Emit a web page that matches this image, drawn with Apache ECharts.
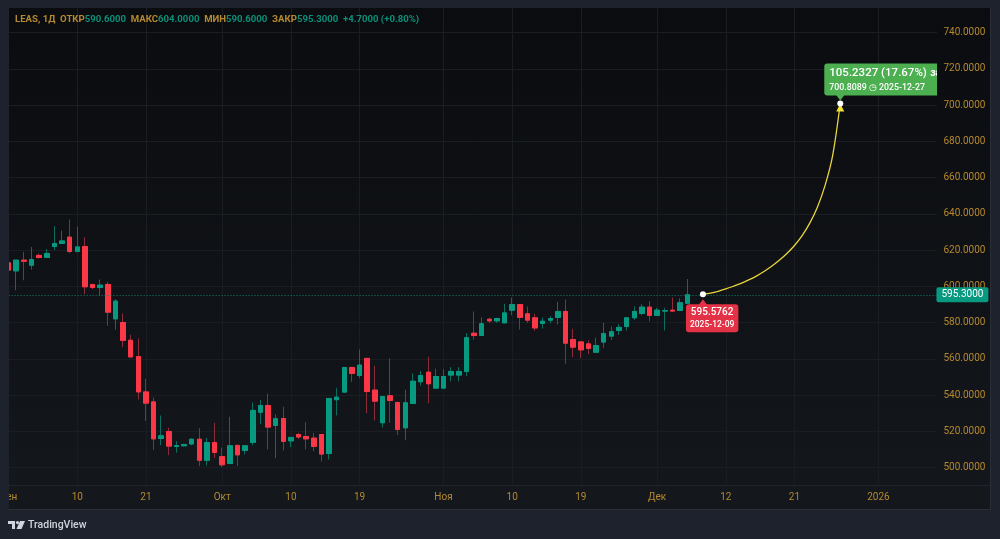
<!DOCTYPE html>
<html>
<head>
<meta charset="utf-8">
<script src="https://cdn.jsdelivr.net/npm/echarts@6/dist/echarts.min.js"></script>
<style>
html, body { margin: 0; padding: 0; background: #1e222d; }
#box { width: 1000px; height: 539px; }
</style>
</head>
<body>
<div id="box"></div>
<script>
// daily candles
const opens = [612.9,608.5,614.4,611.6,617,615.9,621.9,623.6,627.1,619.3,621.9,601,599.3,601,582,580,570.2,561.2,541.7,536.2,516,519.9,511.6,512,513,515.6,504,513.8,506,502.2,512.2,509.4,513.8,530.5,534.2,523.2,527,514.7,518.2,517.1,516.2,518.2,507.7,537.4,541.6,555.2,550.8,560.2,542.7,524.7,539.6,535.9,521.9,535.3,547.3,552.6,543.8,543.8,551,551,553,574.1,572.8,581.8,580.9,579.8,586.8,589.9,584.8,582.6,579.5,581.3,582.8,586.1,570.6,569.3,568.2,563.6,569.2,572.5,575.6,577.8,582.6,585,588.5,583.9,586.3,586.8,586.6,590.6];
const closes = [608.9,614.4,613.8,614.7,615.9,618.1,623.6,625,619.2,621.7,599.7,599.3,600.6,585.7,591.8,570.1,561,541.7,535.5,515.8,517.5,511.8,512.1,512.7,515.6,504,513.8,508.3,501.5,512,507,512,531.5,534.2,522.3,526.9,514.4,516.6,516.8,515.8,511.6,507.4,538.1,538.8,555.2,551.9,556.5,541.9,536.6,539.2,537,521,535.7,547.6,550.8,546.2,550.2,550.2,553,553,571.6,572.8,579.3,580.9,582.2,585.3,589.9,582.8,581.3,577,580.7,582.2,586.1,568.6,566.4,564.9,565.7,567.3,573.9,574.9,577.3,582.6,586.1,588.5,583.9,586.8,586.6,586.3,590.9,595.3];
const lows = [602.2,597.8,603.3,609.2,615.3,615.9,620.1,623.4,618.2,618.8,595.6,598.4,595,578.2,576,566.4,560.7,537.5,525.7,509.6,512.3,506.8,508.1,511.6,512.3,500.7,501.1,505.3,500.2,501.8,500.8,507.2,512.2,523.9,510,505.2,509.4,511.2,515.8,510,509,503.3,504.4,528.7,541.4,547.3,549.3,530,525.9,522.1,524.7,517.9,515.1,535.3,545.2,535.5,543.8,543.8,547.5,547.5,550.4,570.4,572.8,579.8,579.8,579.8,584,576.1,579.8,575.4,576.7,579.5,578.9,557.2,560.9,560.3,562.5,563.6,566,570.3,573.2,575.6,581.5,584,580.6,583.9,575.6,586.3,586.6,590.6];
const highs = [615.7,614.4,619,621.7,618.1,620.6,633.1,630.7,636.8,632.9,627.1,601.3,603.7,602.4,593,585,573.2,571.2,548.9,538.6,528.7,521.9,514.5,513.1,516,521.7,516.4,524.6,511,528,512.2,512,535.9,537.3,540.7,529.3,533.5,516.6,519.1,525,519.1,518.2,538.1,543.8,555.2,555.2,565.1,560.2,556.1,539.2,560.2,535.9,542.9,551.9,553.2,561.1,554.5,554.3,555.4,555.4,574.1,586.1,582.8,582.6,582.6,590.3,593.8,589.9,588.8,584.8,582.8,583.5,591.4,592.7,576.5,569.7,570.1,571.7,579.8,577.8,579.1,582.6,588.8,590.1,591.8,588.1,588.1,593.8,593.3,604];

// projection curve
const curveIndex = [91,92,93,94,95,96,97,98,99,100,101,102,103,104,105,106,107,108,109];
const curveValues = [595.58,596.2,597.2,598.5,600,601.6,603.5,605.6,608.1,611,614.3,618.1,622.5,627.9,634.8,643.6,655.5,672.1,700.81];

// time axis
const tickIndex = [0,9,18,28,37,46,57,66,75,85,94,103,114];
const tickLabels = ['Сен','10','21','Окт','10','19','Ноя','10','19','Дек','12','21','2026'];
const slotCount = 123;

const lastPrice = 595.3;
const startPoint = [91, 595.5762];
const endPoint = [109, 700.8089];

const ORANGE = '#b5892f';
const paneFill = new echarts.graphic.LinearGradient(0, 0, 0, 1, [
    { offset: 0, color: '#0a0c0f' },
    { offset: 1, color: '#14171c' }
]);

const categories = [];
for (let i = 0; i < slotCount; i++) {
    const k = tickIndex.indexOf(i);
    categories.push(k >= 0 ? tickLabels[k] : '');
}
const isTick = (i) => tickIndex.indexOf(i) >= 0;

const wickData = opens.map((o, i) => [o, closes[i], lows[i], highs[i]]);
const bodyData = opens.map((o, i) => {
    const c = closes[i];
    return [o, c, Math.min(o, c), Math.max(o, c)];
});

const chart = echarts.init(document.getElementById('box'), null, { renderer: 'canvas' });

const option = {
    animation: false,
    backgroundColor: '#1e222d',
    grid: { left: 8.6, top: -3.75, width: 930.86, height: 507.5, outerBoundsMode: 'none' },
    title: {
        left: 15, top: 15, z: 25, padding: 0,
        text: '{o|LEAS, 1Д  ОТКР}{g|590.6000}{o|  МАКС}{g|604.0000}{o|  МИН}{g|590.6000}{o|  ЗАКР}{g|595.3000}{g|  +4.7000 (+0.80%)}',
        textStyle: {
            rich: {
                o: { color: ORANGE, fontFamily: 'Roboto', fontSize: 9.6 },
                g: { color: '#0b8f79', fontFamily: 'Roboto', fontSize: 9.6 }
            }
        }
    },
    xAxis: [
        {
            // grid lines only
            type: 'category', data: categories, boundaryGap: false, z: 0, position: 'bottom',
            axisLine: { show: false }, axisTick: { show: false }, axisLabel: { show: false },
            splitLine: { show: true, interval: (i) => isTick(i), lineStyle: { color: '#1a1d22', width: 1 } }
        },
        {
            type: 'category', data: categories, boundaryGap: false, z: 20, position: 'bottom', offset: -16,
            axisLine: { show: false }, axisTick: { show: false }, splitLine: { show: false },
            axisLabel: {
                interval: (i) => isTick(i), margin: 5, hideOverlap: false,
                showMinLabel: true, color: ORANGE, fontFamily: 'Roboto', fontSize: 10
            }
        }
    ],
    yAxis: [
        {
            type: 'value', position: 'right', min: 480, max: 760, interval: 20, z: 0,
            axisLine: { show: false }, axisTick: { show: false }, axisLabel: { show: false },
            splitLine: { show: true, lineStyle: { color: '#1a1d22', width: 1 } }
        },
        {
            type: 'value', position: 'right', min: 480, max: 760, interval: 20, z: 20,
            axisLine: { show: false }, axisTick: { show: false }, splitLine: { show: false },
            axisLabel: {
                margin: 4, color: ORANGE, fontFamily: 'Roboto', fontSize: 10,
                formatter: (v) => (v >= 500 && v <= 740 ? v.toFixed(4) : '')
            }
        }
    ],
    series: [
        {
            // wicks, dim like the thin lines of the original
            name: 'wick', type: 'candlestick', z: 2, barWidth: 5, data: wickData,
            itemStyle: { color: '#0a6e5e', color0: '#8c2c38', borderColor: '#0a6e5e', borderColor0: '#8c2c38', borderWidth: 1 },
            markLine: {
                silent: true, symbol: 'none', animation: false, label: { show: false },
                lineStyle: { color: '#0c8570', type: [1, 2], width: 1 },
                data: [{ yAxis: lastPrice }]
            }
        },
        {
            name: 'body', type: 'candlestick', z: 3, barWidth: 5, data: bodyData,
            itemStyle: { color: '#089981', color0: '#fb3748', borderColor: '#089981', borderColor0: '#fb3748', borderWidth: 1 }
        },
        {
            name: 'curve', type: 'line', z: 4, smooth: 0.3, showSymbol: false, silent: true,
            data: curveIndex.map((x, i) => [x, curveValues[i]]),
            lineStyle: { color: '#e8d53c', width: 1.3 }
        },
        {
            name: 'notes', type: 'scatter', z: 5, silent: true, clip: false,
            itemStyle: { opacity: 1 },
            data: [
                {
                    value: startPoint, symbol: 'triangle', symbolSize: [9, 6], symbolOffset: [0, 8],
                    itemStyle: { color: '#e33146', opacity: 1 }
                },
                {
                    value: endPoint, symbol: 'triangle', symbolSize: [9, 6], symbolRotate: 180, symbolOffset: [0, -6],
                    itemStyle: { color: '#4caf50', opacity: 1 }
                },
                {
                    value: endPoint, symbol: 'triangle', symbolSize: [8, 8], symbolOffset: [0, 4],
                    itemStyle: { color: '#f2e32f', opacity: 1 }
                },
                {
                    value: startPoint, symbol: 'circle', symbolSize: 6, itemStyle: { color: '#ffffff', opacity: 1 },
                    label: {
                        show: true, position: [-14, 13], backgroundColor: '#e33146', borderRadius: 3,
                        padding: [1, 4, 1, 4], align: 'left', verticalAlign: 'top',
                        formatter: '{a|595.5762}\n{b|2025-12-09}',
                        rich: {
                            a: { color: '#fff', fontFamily: 'Roboto', fontSize: 10, fontWeight: 500, align: 'center', lineHeight: 14 },
                            b: { color: '#fff', fontFamily: 'Roboto', fontSize: 8.5, fontWeight: 500, align: 'center', lineHeight: 12 }
                        }
                    }
                },
                {
                    value: endPoint, symbol: 'circle', symbolSize: 6, itemStyle: { color: '#ffffff', opacity: 1 },
                    label: {
                        show: true, position: [-13, -37], backgroundColor: '#4caf50', borderRadius: 3,
                        padding: [2, 6, 1, 5], align: 'left', verticalAlign: 'top',
                        formatter: '{a|105.2327 (17.67%)} {c|за 18 дней}\n{b|700.8089 ◷ 2025-12-27}',
                        rich: {
                            a: { color: '#fff', fontFamily: 'Roboto', fontSize: 11.5, fontWeight: 500, lineHeight: 16 },
                            c: { color: '#fff', fontFamily: 'Roboto', fontSize: 10.5, fontWeight: 700, lineHeight: 16 },
                            b: { color: '#fff', fontFamily: 'Roboto', fontSize: 8.8, fontWeight: 500, lineHeight: 13 }
                        }
                    }
                }
            ]
        },
        {
            // price tag over the axis column
            name: 'tag', type: 'scatter', xAxisIndex: 1, yAxisIndex: 1, z: 21, silent: true, clip: false,
            symbolSize: 0,
            itemStyle: { opacity: 1 },
            data: [{
                value: [slotCount - 1, lastPrice],
                label: {
                    show: true, position: 'right', distance: -3, backgroundColor: '#089981', borderRadius: 2,
                    padding: [3, 5, 2, 5], color: '#fff', fontFamily: 'Roboto', fontSize: 10,
                    formatter: lastPrice.toFixed(4)
                }
            }]
        }
    ],
    graphic: {
        elements: [
            { type: 'rect', z: -10, silent: true, shape: { x: 9, y: 8, width: 982, height: 501 }, style: { fill: paneFill } },
            // covers that trim everything drawn past the pane
            { type: 'rect', z: 10, silent: true, shape: { x: 937, y: 8, width: 54, height: 501 }, style: { fill: paneFill } },
            { type: 'rect', z: 10, silent: true, shape: { x: 9, y: 486, width: 982, height: 23 }, style: { fill: '#14171c' } },
            { type: 'rect', z: 10, silent: true, shape: { x: 9, y: 485, width: 982, height: 1 }, style: { fill: '#20242c' } },
            { type: 'rect', z: 10, silent: true, shape: { x: 990, y: 8, width: 1, height: 501 }, style: { fill: '#2a2e39' } },
            { type: 'rect', z: 10, silent: true, shape: { x: 9, y: 509, width: 982, height: 1 }, style: { fill: '#2a2e39' } },
            { type: 'rect', z: 10, silent: true, shape: { x: 0, y: 0, width: 1000, height: 8 }, style: { fill: '#1e222d' } },
            { type: 'rect', z: 22, silent: true, shape: { x: 0, y: 0, width: 9, height: 539 }, style: { fill: '#1e222d' } },
            // logo
            { type: 'polygon', z: 25, silent: true, shape: { points: [[8, 521], [15, 521], [15, 529], [12, 529], [12, 524], [8, 524]] }, style: { fill: '#d1d4dc' } },
            { type: 'circle', z: 25, silent: true, shape: { cx: 17.5, cy: 522.6, r: 1.6 }, style: { fill: '#d1d4dc' } },
            { type: 'polygon', z: 25, silent: true, shape: { points: [[20, 521], [25, 521], [21.5, 529], [16.5, 529]] }, style: { fill: '#d1d4dc' } },
            {
                type: 'text', z: 25, silent: true, x: 28, y: 520,
                style: { text: 'TradingView', fill: '#d1d4dc', font: '500 10.5px Roboto' }
            }
        ]
    }
};

chart.setOption(option);
</script>
</body>
</html>
